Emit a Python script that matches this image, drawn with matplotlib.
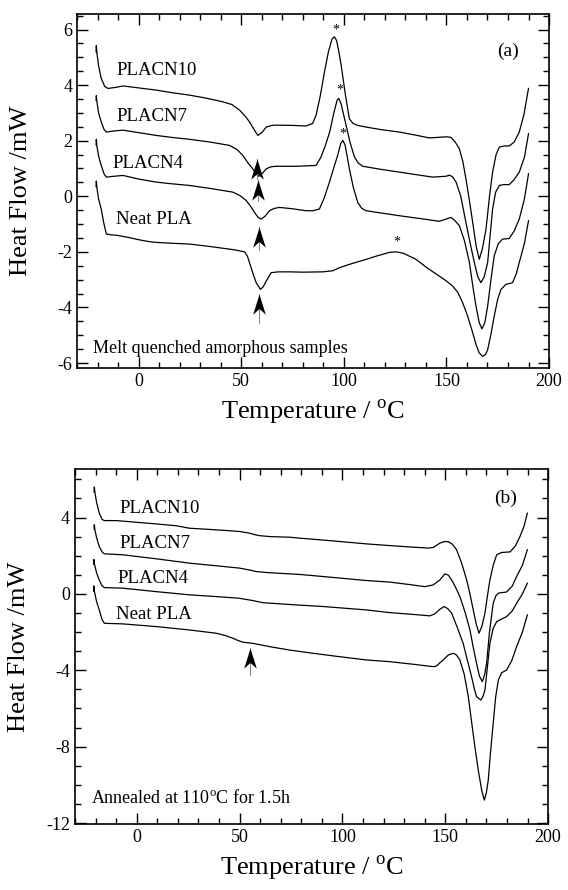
import matplotlib
matplotlib.use("Agg")
import matplotlib.pyplot as plt
from matplotlib.ticker import MultipleLocator
from matplotlib.path import Path

plt.rcParams['font.family'] = ['Liberation Serif', 'DejaVu Serif']
plt.rcParams['mathtext.fontset'] = 'custom'
plt.rcParams['mathtext.rm'] = 'Liberation Serif'

# ---- panel (a): melt quenched amorphous samples ----
a_pla10_x = [-20.7, -20.6, -20.3, -19.5, -18.2, -16.5, -14.9, -11, -7.6, 0, 8.6, 16, 24.8, 33, 41.0, 45.5,
             49.2, 52, 54.0, 56.3, 58.1, 60.2, 62.2, 65, 67.0, 75, 81.6, 84.8, 86.5, 88.5, 90.6, 92.5, 94.2,
             95.4, 96.5, 97.6, 98.7, 100.8, 102.7, 104.5, 106.8, 110.9, 118, 127.1, 135, 141.7, 146, 150,
             152.2, 154.3, 156.3, 158, 159.5, 161.2, 162.8, 164.5, 166.0, 167.5, 169.3, 171, 172.5, 174.2,
             175.8, 178, 180.6, 183, 185.5, 187.8, 190.0]
a_pla10_y = [5.2, 5.42, 5.15, 4.7, 4.24, 3.95, 3.88, 3.92, 3.97, 3.9, 3.82, 3.73, 3.64, 3.53, 3.40, 3.3,
             3.10, 2.88, 2.68, 2.40, 2.19, 2.30, 2.49, 2.55, 2.56, 2.55, 2.53, 2.62, 2.92, 3.6, 4.48, 5.2, 5.65,
             5.74, 5.6, 5.2, 4.72, 3.64, 2.79, 2.62, 2.55, 2.49, 2.4, 2.31, 2.2, 2.10, 2.12, 2.14,
             2.12, 1.95, 1.71, 1.25, 0.63, -0.15, -0.94, -1.8, -2.27, -1.9, -1.18, 0.0, 0.87, 1.5,
             1.77, 1.81, 1.81, 1.95, 2.31, 2.95, 3.88]

a_pla7_x = [-20.7, -20.6, -20.3, -19.5, -18.2, -16.8, -15.7, -12, -7.6, 0, 8.6, 16, 24.8, 35, 44.3, 48,
            50.8, 53.5, 55.6, 57.3, 58.6, 60.3, 62.2, 64.5, 67.0, 77, 86.5, 88.8, 90.9, 93.1, 95.3, 96.8,
            97.5, 98.6, 99.7, 101.1, 103, 105.2, 107, 109.2, 118, 127.1, 135, 143.3, 149.8, 151.5, 153,
            154.7, 157, 159.5, 161.6, 163.6, 165.3, 166.8, 168.4, 170.1, 171.3, 172.5, 174, 175.8, 178,
            180.6, 183, 185.5, 188, 190.0]
a_pla7_y = [3.45, 3.62, 3.4, 3.0, 2.68, 2.4, 2.31, 2.35, 2.38, 2.29, 2.19, 2.12, 2.05, 1.95, 1.83, 1.68,
            1.47, 1.18, 0.99, 0.8, 0.72, 0.82, 0.99, 1.06, 1.08, 1.08, 1.11, 1.4, 1.8, 2.31, 3.05, 3.47,
            3.52, 3.35, 3.0, 2.56, 1.95, 1.41, 1.2, 1.08, 0.97, 0.87, 0.78, 0.69, 0.72, 0.76, 0.7,
            0.51, 0.0, -0.94, -1.7, -2.38, -2.9, -3.11, -2.9, -2.38, -1.4, -0.46, 0.15, 0.39, 0.42,
            0.42, 0.6, 0.87, 1.4, 2.25]

a_pla4_x = [-20.7, -20.6, -20.3, -19.5, -18.2, -16.8, -15.7, -12, -7.6, 0, 8.6, 16, 24.8, 35, 45.9, 49.5,
            52.4, 54.5, 56.5, 58.2, 59.7, 61.6, 63.8, 66, 68.6, 75, 81.6, 85, 88.1, 90.5, 93.0, 95, 97.0,
            98.5, 99.5, 100.6, 101.6, 102.7, 104.7, 106.8, 108.8, 110.9, 118, 127.1, 137, 146.5, 149.8,
            152.2, 154.2, 156.3, 158.8, 161.2, 162.8, 164.4, 166, 167.3, 168.7, 170.1, 171.7, 173.3,
            175.3, 177.4, 180.6, 183, 185.5, 188, 190.0]
a_pla4_y = [1.85, 2.05, 1.8, 1.45, 1.11, 0.8, 0.69, 0.72, 0.75, 0.62, 0.51, 0.45, 0.39, 0.28, 0.15, 0.02,
            -0.15, -0.35, -0.58, -0.76, -0.82, -0.72, -0.52, -0.44, -0.40, -0.45, -0.52, -0.52, -0.46,
            -0.05, 0.51, 1.0, 1.47, 1.9, 2.01, 1.85, 1.45, 0.99, 0.3, -0.22, -0.44, -0.52, -0.6, -0.70,
            -0.8, -0.90, -0.82, -0.76, -0.88, -1.06, -1.6, -2.38, -3.2, -3.95, -4.55, -4.77, -4.55, -3.95,
            -3.0, -2.14, -1.7, -1.54, -1.52, -1.25, -0.82, -0.1, 0.81]

a_neat_x = [-20.7, -20.6, -20.3, -19.5, -18.2, -17, -15.7, -13, -10.9, -5, 0.5, 5, 8.6, 16, 24.8, 33,
            41.0, 47, 51.6, 53, 54.0, 55.6, 57.3, 59.4, 60.8, 62.2, 64.6, 68, 73.5, 80, 89.7, 94.6, 97.9,
            104, 110.9, 116, 122.2, 125.5, 129, 135.2, 141, 146.5, 150, 153.0, 155.5, 157.9, 160.3,
            162.8, 164.5, 166, 167.6, 169, 170.1, 171.6, 173.3, 175, 176.6, 179.0, 182.2, 184, 185.5,
            188, 190.0]
a_neat_y = [0.35, 0.55, 0.3, -0.1, -0.46, -0.95, -1.36, -1.39, -1.40, -1.48, -1.57, -1.63, -1.66, -1.69,
            -1.72, -1.79, -1.87, -1.93, -2.00, -2.15, -2.38, -2.75, -3.11, -3.35, -3.25, -3.05, -2.75,
            -2.72, -2.72, -2.73, -2.72, -2.68, -2.57, -2.42, -2.27, -2.15, -2.02, -2.0, -2.05, -2.27,
            -2.6, -2.87, -3.05, -3.23, -3.45, -3.83, -4.3, -4.91, -5.35, -5.64, -5.76, -5.7, -5.52, -5.0,
            -4.31, -3.7, -3.35, -3.17, -3.11, -2.8, -2.38, -1.7, -0.88]

# ---- panel (b): annealed at 110 C for 1.5 h ----
b_pla10_x = [-20.7, -20.6, -20.3, -19.5, -18.2, -16.8, -15.7, -10.0, 1.3, 10, 19.2, 25.7, 35, 45, 50.0,
             54.9, 57.5, 59.8, 65, 74.3, 79.2, 95, 111.7, 123.0, 134, 141.7, 144.1, 147.4, 149.5, 151.4,
             153.5, 155.5, 158, 160.4, 162, 163.6, 165.1, 166.4, 167.8, 169.3, 170.5, 171.7, 173.3,
             175.0, 177.4, 181.5, 184, 186.3, 188.3, 189.9]
b_pla10_y = [5.35, 5.6, 5.3, 4.8, 4.23, 3.9, 3.84, 3.84, 3.74, 3.66, 3.57, 3.44, 3.38, 3.31, 3.27,
             3.18, 3.1, 3.05, 3.0, 2.97, 2.92, 2.78, 2.62, 2.53, 2.45, 2.40, 2.43, 2.66, 2.74, 2.74,
             2.6, 2.31, 1.6, 0.73, 0.0, -0.84, -1.6, -2.06, -1.7, -1.01, -0.1, 0.73, 1.5,
             2.05, 2.17, 2.20, 2.5, 3.0, 3.55, 4.23]

b_pla7_x = [-20.7, -20.6, -20.3, -19.5, -18.2, -16.8, -15.7, -6.8, 9.4, 25.7, 40, 50.0, 55, 58.1, 63.0,
            79.2, 90.6, 111.7, 123.0, 134, 140.1, 144.1, 147.4, 149.8, 151.5, 153.1, 155, 157.1, 159.6,
            162.0, 163.6, 165.2, 166.6, 168.0, 169.2, 170.1, 171.5, 173.3, 174.6, 175.8, 179.8, 182.5,
            184.7, 187.5, 189.9]
b_pla7_y = [3.4, 3.62, 3.35, 2.95, 2.48, 2.2, 2.10, 2.05, 1.84, 1.61, 1.46, 1.35, 1.25, 1.17, 1.12,
            1.02, 0.91, 0.70, 0.62, 0.47, 0.38, 0.47, 0.73, 1.05, 0.98, 0.73, 0.35, -0.14, -0.95,
            -1.89, -2.8, -3.63, -4.3, -4.60, -4.2, -3.63, -2.0, -0.49, -0.1, 0.04, 0.10, 0.4,
            0.91, 1.5, 2.31]

b_pla4_x = [-20.9, -20.8, -20.5, -19.5, -18.2, -16.8, -15.7, -6.8, 9.4, 25.7, 40, 50.0, 56.5, 61.3, 75,
            90.6, 111.7, 123.0, 135, 142.5, 144.9, 147.4, 149.5, 151.3, 153.1, 156, 158.7, 160.8, 162.8,
            164.2, 165.2, 167.3, 168.4, 169.3, 170.5, 171.7, 173.3, 175.0, 176.6, 179.8, 182.5, 184.7,
            187.5, 189.9]
b_pla4_y = [1.55, 1.8, 1.55, 1.1, 0.73, 0.42, 0.33, 0.30, 0.12, -0.05, -0.15, -0.23, -0.35, -0.46, -0.56,
            -0.66, -0.84, -0.98, -1.08, -1.15, -1.05, -0.80, -0.66, -0.78, -1.01, -1.8, -2.59, -3.5, -4.34,
            -5.0, -5.38, -5.56, -5.35, -5.03, -3.8, -2.59, -1.8, -1.45, -1.36, -1.19, -0.9, -0.49,
            0.0, 0.56]

b_neat_x = [-20.9, -20.8, -20.5, -19.5, -18.2, -16.8, -15.7, -6.8, 9.4, 25.7, 38.7, 43, 46.7, 49.5, 51.6,
            56.5, 65, 74.3, 85, 98.7, 111.7, 123.0, 134, 144.1, 145.7, 147.3, 149.0, 151.5, 153.9, 155.5,
            157.1, 159.2, 161.2, 162.8, 164.4, 166, 167.7, 169.0, 170, 170.9, 172, 173.3, 174.5, 175.8,
            177.4, 179.8, 182.3, 184.7, 187.5, 189.9]
b_neat_y = [0.15, 0.42, 0.1, -0.4, -0.84, -1.35, -1.54, -1.57, -1.71, -1.89, -2.06, -2.18, -2.32, -2.45,
            -2.53, -2.59, -2.77, -2.94, -3.1, -3.29, -3.46, -3.55, -3.68, -3.81, -3.78, -3.62, -3.46,
            -3.2, -3.11, -3.2, -3.46, -4.2, -5.38, -6.7, -8.01, -9.2, -10.28, -10.80, -10.4, -9.75,
            -8.3, -6.78, -5.4, -4.51, -4.13, -3.99, -3.5, -2.76, -2.0, -1.10]

names = ["PLACN10", "PLACN7", "PLACN4", "Neat PLA"]
a_label_x = [-10.9, -10.9, -12.5, -10.9]
a_label_y = [4.54, 2.86, 1.17, -0.82]
b_label_x = [-8.4, -8.4, -9.3, -10.0]
b_label_y = [4.49, 2.62, 0.82, -1.10]

# Tg arrows (tip y, tail y)
a_arrow_x = [57.8, 58.3, 58.8, 58.8]
a_arrow_tip = [1.35, 0.60, -1.12, -3.50]
a_arrow_tail = [0.63, -0.18, -1.92, -4.55]
b_arrow_x = [54.9]
b_arrow_tip = [-2.85]
b_arrow_tail = [-4.25]

# cold crystallisation peak markers
a_star_x = [95.9, 98.2, 99.5, 126.0]
a_star_y = [5.98, 3.82, 2.25, -1.66]

fig = plt.figure(figsize=(5.68, 8.90), dpi=100)
ax1 = fig.add_axes([0.1356, 0.5865, 0.831, 0.3978])
ax2 = fig.add_axes([0.132, 0.0742, 0.833, 0.399])

lw = 0.9
for xs, ys in [(a_pla10_x, a_pla10_y), (a_pla7_x, a_pla7_y), (a_pla4_x, a_pla4_y), (a_neat_x, a_neat_y)]:
    ax1.plot(xs, ys, color='k', lw=lw)
for xs, ys in [(b_pla10_x, b_pla10_y), (b_pla7_x, b_pla7_y), (b_pla4_x, b_pla4_y), (b_neat_x, b_neat_y)]:
    ax2.plot(xs, ys, color='k', lw=lw)

for n, x, y in zip(names, a_label_x, a_label_y):
    ax1.text(x, y, n, fontsize=13.5, va='center', ha='left')
for n, x, y in zip(names, b_label_x, b_label_y):
    ax2.text(x, y, n, fontsize=13.5, va='center', ha='left')

for x, y in zip(a_star_x, a_star_y):
    ax1.text(x, y, "*", fontsize=10, ha='center', va='center')

# notched arrow head, tip at the marker origin
head = Path([(0, 0), (0.5, -1.6), (0, -1.15), (-0.5, -1.6), (0, 0)],
            [Path.MOVETO, Path.LINETO, Path.LINETO, Path.LINETO, Path.CLOSEPOLY])


def draw_arrow(ax, x, tip, tail):
    ax.plot([x, x], [tail, tip], color='0.5', lw=0.7)
    ax.plot([x], [tip], marker=head, ms=29, color='k', mew=0)


for x, t0, t1 in zip(a_arrow_x, a_arrow_tip, a_arrow_tail):
    draw_arrow(ax1, x, t0, t1)
for x, t0, t1 in zip(b_arrow_x, b_arrow_tip, b_arrow_tail):
    draw_arrow(ax2, x, t0, t1)

ax1.text(179.8, 5.23, "(a)", fontsize=14, ha='center', va='center')
ax2.text(179.3, 5.02, "(b)", fontsize=14, ha='center', va='center')
ax1.text(-22.0, -5.46, "Melt quenched amorphous samples", fontsize=13, va='center', ha='left')
ax2.text(-22.0, -10.7, r"Annealed at 110$^{\rm o}$C for 1.5h", fontsize=13, va='center', ha='left')

ax1.set_xlim(-30, 200)
ax1.set_ylim(-6.18, 6.56)
ax2.set_xlim(-30, 200)
ax2.set_ylim(-12.05, 6.55)

ax1.yaxis.set_major_locator(MultipleLocator(2))
ax1.yaxis.set_minor_locator(MultipleLocator(0.5))
ax2.yaxis.set_major_locator(MultipleLocator(4))
ax2.yaxis.set_minor_locator(MultipleLocator(1))

for ax in (ax1, ax2):
    ax.xaxis.set_major_locator(MultipleLocator(50))
    ax.xaxis.set_minor_locator(MultipleLocator(10))
    ax.tick_params(which='both', direction='in', top=True, right=True, labelsize=13, width=1.0)
    ax.tick_params(which='major', length=8)
    ax.tick_params(which='minor', length=4)
    for s in ax.spines.values():
        s.set_linewidth(1.2)
    ax.set_xlabel(r"Temperature / $^{\rm o}$C", fontsize=19, labelpad=6)
    ax.set_ylabel("Heat Flow /mW", fontsize=19)
    ax.yaxis.set_label_coords(-0.095, 0.5)

ax1.set_yticks([6, 4, 2, 0, -2, -4, -6])
ax1.set_yticklabels(["6", "4", "2", "0", "-2", "-4", "-6"])
ax2.set_yticks([4, 0, -4, -8, -12])
ax2.set_yticklabels(["4", "0", "-4", "-8", "-12"])

fig.savefig("out.png", dpi=100)
